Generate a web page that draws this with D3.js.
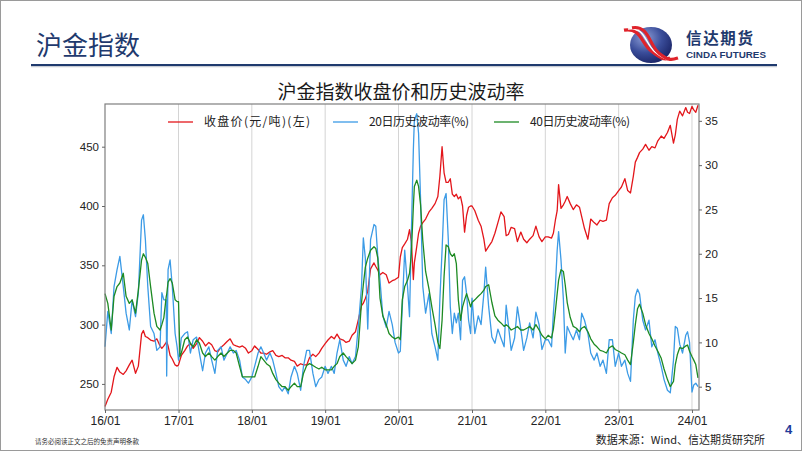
<!DOCTYPE html>
<html>
<head>
<meta charset="utf-8">
<script src="https://cdn.jsdelivr.net/npm/d3@7"></script>
<style>
  body { margin: 0; background: #fff; }
  svg { display: block; }
</style>
</head>
<body>
<svg id="chart" width="802" height="451"></svg>
<script>
// Data (semi-monthly samples)
const dates = [
  "2016-01-01","2016-01-15","2016-02-01","2016-02-15","2016-03-01","2016-03-15","2016-04-01","2016-04-15","2016-05-01","2016-05-15","2016-06-01","2016-06-15","2016-07-01","2016-07-10","2016-07-20","2016-08-01","2016-08-15","2016-09-01","2016-09-15","2016-10-01","2016-10-10","2016-10-20","2016-11-01","2016-11-03","2016-11-10","2016-11-20","2016-12-01","2016-12-15","2016-12-25",
  "2017-01-01","2017-01-08","2017-01-15","2017-02-01","2017-02-15","2017-03-01","2017-03-15","2017-04-01","2017-04-15","2017-05-01","2017-05-15","2017-06-01","2017-06-15","2017-07-01","2017-07-15","2017-08-01","2017-08-15","2017-09-01","2017-09-15","2017-10-01","2017-10-15","2017-11-01","2017-11-15","2017-12-01","2017-12-15",
  "2018-01-01","2018-01-15","2018-02-01","2018-02-15","2018-03-01","2018-03-15","2018-04-01","2018-04-15","2018-05-01","2018-05-15","2018-06-01","2018-06-15","2018-07-01","2018-07-15","2018-08-01","2018-08-15","2018-09-01","2018-09-15","2018-10-01","2018-10-15","2018-11-01","2018-11-15","2018-12-01","2018-12-15",
  "2019-01-01","2019-01-15","2019-02-01","2019-02-15","2019-03-01","2019-03-15","2019-04-01","2019-04-15","2019-05-01","2019-05-15","2019-06-01","2019-06-15","2019-07-01","2019-07-10","2019-07-20","2019-08-01","2019-08-15","2019-09-01","2019-09-10","2019-09-20","2019-10-01","2019-10-15","2019-11-01","2019-11-15","2019-12-01","2019-12-15",
  "2020-01-01","2020-01-10","2020-01-20","2020-02-01","2020-02-15","2020-02-25","2020-03-05","2020-03-15","2020-03-20","2020-04-01","2020-04-10","2020-04-20","2020-05-01","2020-05-15","2020-06-01","2020-06-15","2020-07-01","2020-07-15","2020-07-25","2020-08-05","2020-08-15","2020-08-25","2020-09-05","2020-09-15","2020-09-25","2020-10-05","2020-10-15","2020-10-25","2020-11-05","2020-11-15","2020-11-25","2020-12-05","2020-12-15","2020-12-25",
  "2021-01-01","2021-01-15","2021-02-01","2021-02-15","2021-03-01","2021-03-10","2021-03-25","2021-04-10","2021-04-25","2021-05-10","2021-05-25","2021-06-10","2021-06-20","2021-07-01","2021-07-15","2021-08-01","2021-08-15","2021-09-01","2021-09-15","2021-10-01","2021-10-15","2021-11-01","2021-11-15","2021-12-01","2021-12-15",
  "2022-01-01","2022-01-15","2022-02-01","2022-02-10","2022-02-20","2022-03-01","2022-03-08","2022-03-20","2022-04-01","2022-04-10","2022-04-20","2022-05-05","2022-05-20","2022-06-05","2022-06-20","2022-07-01","2022-07-15","2022-08-01","2022-08-15","2022-09-01","2022-09-15","2022-10-01","2022-10-15","2022-11-01","2022-11-15","2022-12-01","2022-12-15",
  "2023-01-01","2023-01-15","2023-02-01","2023-02-15","2023-03-01","2023-03-15","2023-03-25","2023-04-05","2023-04-15","2023-05-01","2023-05-15","2023-06-01","2023-06-15","2023-07-01","2023-07-15","2023-08-01","2023-08-15","2023-09-01","2023-09-15","2023-10-01","2023-10-10","2023-10-20","2023-11-01","2023-11-15","2023-12-01","2023-12-10","2023-12-20",
  "2024-01-01","2024-01-10","2024-01-20","2024-01-31"
];

// 收盘价, left axis
const closePrice = [
  231,237,243,256,264,260,258,261,266,270,259,265,292,295,290,289,287,286,288,282,280,282,285,286,282,274,271,266,265,
  266,270,274,278,282,284,280,284,289,286,282,285,283,278,277,281,283,286,288,283,282,281,282,280,276,
  278,282,279,276,276,275,277,278,274,273,274,272,272,270,269,265,267,266,266,272,275,273,276,280,
  284,287,290,288,292,288,287,285,286,291,294,304,316,318,322,328,347,352,349,346,342,344,342,335,337,338,
  340,357,365,368,372,380,370,338,352,366,377,383,386,389,395,398,402,408,425,450,428,420,420,423,410,408,410,406,408,400,378,392,399,400,
  400,396,388,383,372,362,366,370,377,386,395,391,375,376,382,381,370,378,372,369,372,375,383,374,370,
  374,374,373,377,388,396,418,398,401,404,408,402,397,401,399,391,381,372,389,386,384,388,387,388,402,407,409,
  413,416,423,413,411,425,437,441,445,448,452,447,450,449,455,459,457,462,468,453,460,473,480,476,483,479,478,
  484,481,479,485
];

// 20日历史波动率 (%), right axis
const vol20 = [
  9.5,13.5,11,16.3,18.2,19.7,16.3,13.3,11.4,14.8,12.9,15.6,23.8,24.4,21.6,16.3,11.8,11,9.1,9.5,15.6,14.8,14.8,6.2,18.2,19.3,16.3,11,9.5,
  8,9,10.5,11,11.2,8.8,10.3,10.6,8.8,6.8,8.8,9.5,8,6.5,9.1,9.5,8,8.8,9.5,8.8,9.1,8,6.1,5.8,5.4,
  6.1,7.3,8.8,9.5,8.8,8,8.8,8,6.5,5,4.5,5,4.2,6.1,7.3,6.5,4.6,7.3,9.1,9.1,6.5,5,5.8,6.1,
  7.3,6.5,7.3,6.5,8.8,10.3,8,7.3,8.4,7.6,8.4,11.8,16.3,21.8,19.5,11.5,21.6,23.3,23.1,19.7,17,13,11.7,13.5,12,10,
  8.8,9,14,20.4,16.3,12.9,22.3,31.7,35.1,35.8,33.6,26.1,16.3,13.3,15.5,11,9.5,8,14.8,20.4,26.1,26.8,21.6,14,11,13.3,12.2,13.3,10.3,17,17.4,15.5,12.5,11,
  15,11,13,12,15.5,18.5,14,10.6,9.9,11.5,10.5,9.5,14.2,12,9.1,10.5,14,11.5,9.1,10.5,12.2,10.5,13.4,12,9.2,
  10.3,10.3,9.5,13.3,16.3,20.4,22.5,19.3,14.8,8.8,11.8,11,10.3,11.4,10.3,13.3,12.5,11,8.8,8,8.8,7.3,8,6.5,10.3,10.3,7.3,
  8.8,7.3,8,6.5,5.6,12.5,15.2,16,15.5,12.5,11.4,12.5,9.5,10.3,8.8,7.3,5.8,4.6,4.3,8,11.8,11.6,9.8,8.8,10.8,11.2,10,
  4.4,5.2,5.4,5
];

// 40日历史波动率 (%), right axis
const vol40 = [
  15.5,14.4,11.4,15.2,16.3,16.7,17.8,15.2,14.4,14.8,13.3,15.9,19.3,20,19.6,18.9,16.3,13.3,11.8,11.4,12,12.8,15.2,15.4,16.8,17.2,16.7,14.8,14.6,
  14.6,8.4,8.8,10.3,10.6,9.9,9.5,10.3,9.9,8.8,8.4,8.8,8.4,8,8.4,8.8,8.4,8.8,9.1,9.1,8.8,7.3,6.1,6.1,6.1,
  6.1,6.1,7.3,8.4,8,7.6,7.3,6.5,5.8,5.4,5,5,4.6,5,5.4,5,5,6.5,7.4,7.6,7.4,7.2,7,7.2,
  6.9,6.9,6.9,7.3,7.6,8.4,8.8,8.4,8,7.6,8,9.5,14.5,16.5,18.5,19.5,20.4,20.8,20.6,19.5,15,13,12,11,10.6,10.4,
  10.6,10.3,14.8,16.3,17,17.8,20,25.3,27.6,28.3,27.6,25.5,21.5,18,16,14,12,10,9.3,12.5,17.5,21,20.8,20,19.7,20,18.9,14.8,12.5,14,14.8,15.5,14.8,14,
  14.5,14.8,15.2,15.5,15.9,16.3,16.5,14.5,13,12.5,12.2,11.8,12,11.8,11.4,11.6,11.8,11.4,11.4,11.6,11.8,11.4,12,11.4,10.8,
  10.4,10.8,10.5,11.5,13.5,15.5,17,18.2,18,16.5,14.5,12.8,11.8,11.6,11.2,11.6,11.8,11.2,10.4,9.8,9.5,9.1,9,8.8,9.4,9.6,9.2,
  9,8.8,8.6,8,7.5,10,12,13.8,14.3,13.3,12,11,10.4,9.6,9,8.2,7,5.8,5,5.6,7.5,8.6,9.4,9.3,9.6,9.7,9,
  8.4,8,7.5,6
];

const leftTicks = [250, 300, 350, 400, 450];
const rightTicks = [5, 10, 15, 20, 25, 30, 35];
const yearTicks = ["2016-01-01","2017-01-01","2018-01-01","2019-01-01","2020-01-01","2021-01-01","2022-01-01","2023-01-01","2024-01-01"];
const seriesNames = ["收盘价(元/吨)(左)", "20日历史波动率(%)", "40日历史波动率(%)"];
const seriesColors = ["#e3161b", "#3c9be6", "#1d8a22"];

const parse = d3.timeParse("%Y-%m-%d");
const cjk = "'Noto Sans CJK SC', 'Noto Sans', sans-serif";
const num = "'Liberation Sans', Arial, sans-serif";
const navy = "#1f3a6e";

const svg = d3.select("#chart");

// page frame
svg.append("rect")
  .attr("x", 0.5).attr("y", 0.5).attr("width", 801).attr("height", 450)
  .attr("fill", "#fff").attr("stroke", "#9a9a9a");

// ---- header ----
svg.append("text")
  .attr("x", 36).attr("y", 55)
  .style("font-family", cjk).style("font-size", "26px")
  .attr("fill", navy)
  .text("沪金指数");

svg.append("line")
  .attr("x1", 31).attr("x2", 777).attr("y1", 66.5).attr("y2", 66.5)
  .attr("stroke", "#c8ccd4").attr("stroke-width", 1.5);
svg.append("line")
  .attr("x1", 31).attr("x2", 777).attr("y1", 65).attr("y2", 65)
  .attr("stroke", navy).attr("stroke-width", 2);

// logo
const defs = svg.append("defs");
const grad = defs.append("radialGradient").attr("id", "logoGrad")
  .attr("cx", "35%").attr("cy", "30%").attr("r", "75%");
grad.append("stop").attr("offset", "0%").attr("stop-color", "#8fa0d8");
grad.append("stop").attr("offset", "55%").attr("stop-color", "#3a4d9a");
grad.append("stop").attr("offset", "100%").attr("stop-color", "#1a2466");

const logo = svg.append("g");
logo.append("ellipse")
  .attr("cx", 651).attr("cy", 45).attr("rx", 21).attr("ry", 18)
  .attr("fill", "url(#logoGrad)");
[-4, 0, 4].forEach(off => {
  logo.append("path")
    .attr("d", `M${628 + off},${29 - off * 0.3} C${645 + off},${26 - off * 0.3} ${645 + off},${44 + off * 0.3} ${655 + off},${52 + off * 0.3} S${668 + off},${60} ${674 + off},${58}`)
    .attr("fill", "none")
    .attr("stroke", off === 0 ? "#ffffff" : "#e0232b")
    .attr("stroke-width", off === 0 ? 1.4 : 3.2);
});
svg.append("text")
  .attr("x", 686).attr("y", 44)
  .style("font-family", cjk).style("font-size", "15.5px").style("font-weight", "bold")
  .attr("fill", navy)
  .attr("textLength", 67)
  .text("信达期货");
svg.append("text")
  .attr("x", 686).attr("y", 57.5)
  .style("font-family", num).style("font-size", "8.5px").style("font-weight", "bold")
  .attr("fill", navy)
  .attr("textLength", 80).attr("lengthAdjust", "spacingAndGlyphs")
  .text("CINDA FUTURES");

// ---- chart ----
const plot = { left: 105, right: 699, top: 104, bottom: 410 };

const x = d3.scaleTime()
  .domain([parse("2016-01-01"), parse("2024-02-05")])
  .range([plot.left, plot.right]);
const yLeft = d3.scaleLinear().domain([228, 486]).range([plot.bottom, plot.top]);
const yRight = d3.scaleLinear().domain([2.37, 36.9]).range([plot.bottom, plot.top]);

svg.append("text")
  .attr("x", 401).attr("y", 99)
  .attr("text-anchor", "middle")
  .style("font-family", cjk).style("font-size", "19px")
  .attr("fill", "#1a1a1a")
  .text("沪金指数收盘价和历史波动率");

// vertical gridlines at each year
svg.append("g")
  .selectAll("line")
  .data(yearTicks.slice(1))
  .join("line")
  .attr("x1", d => x(parse(d))).attr("x2", d => x(parse(d)))
  .attr("y1", plot.top).attr("y2", plot.bottom)
  .attr("stroke", "#d4d4d4").attr("stroke-width", 1);

const rows = dates.map((d, i) => ({
  date: parse(d),
  close: closePrice[i],
  v20: vol20[i],
  v40: vol40[i]
}));

const lineClose = d3.line().x(d => x(d.date)).y(d => yLeft(d.close));
const line20 = d3.line().x(d => x(d.date)).y(d => yRight(d.v20));
const line40 = d3.line().x(d => x(d.date)).y(d => yRight(d.v40));

const lines = svg.append("g")
  .attr("fill", "none")
  .attr("stroke-width", 1.3)
  .attr("stroke-linejoin", "round");
lines.append("path").datum(rows).attr("stroke", seriesColors[0]).attr("d", lineClose);
lines.append("path").datum(rows).attr("stroke", seriesColors[1]).attr("d", line20);
lines.append("path").datum(rows).attr("stroke", seriesColors[2]).attr("d", line40);

// plot frame
svg.append("rect")
  .attr("x", plot.left).attr("y", plot.top)
  .attr("width", plot.right - plot.left).attr("height", plot.bottom - plot.top)
  .attr("fill", "none").attr("stroke", "#7f7f7f").attr("stroke-width", 1.2);

// axes
function styleAxis(g) {
  g.select(".domain").remove();
  g.selectAll(".tick line").attr("stroke", "#666");
  g.selectAll(".tick text")
    .attr("fill", "#222")
    .style("font-family", num)
    .style("font-size", "11.5px");
}

svg.append("g")
  .attr("transform", `translate(${plot.left},0)`)
  .call(d3.axisLeft(yLeft).tickValues(leftTicks).tickSize(3).tickPadding(3))
  .call(styleAxis);

svg.append("g")
  .attr("transform", `translate(${plot.right},0)`)
  .call(d3.axisRight(yRight).tickValues(rightTicks).tickSize(3).tickPadding(3))
  .call(styleAxis);

svg.append("g")
  .attr("transform", `translate(0,${plot.bottom})`)
  .call(d3.axisBottom(x)
    .tickValues(yearTicks.map(parse))
    .tickFormat(d3.timeFormat("%y/%m"))
    .tickSize(3).tickPadding(3))
  .call(styleAxis)
  .call(g => g.selectAll(".tick text")
    .style("font-family", "'Liberation Sans Narrow', 'Liberation Sans', sans-serif")
    .style("font-size", "12px"));

// legend
const legendX = [168, 333, 494];
const legendTextLen = [106, 100, 100];
const legend = svg.append("g");
seriesNames.forEach((name, i) => {
  legend.append("line")
    .attr("x1", legendX[i]).attr("x2", legendX[i] + 25)
    .attr("y1", 122).attr("y2", 122)
    .attr("stroke", seriesColors[i]).attr("stroke-width", 1.3);
  legend.append("text")
    .attr("x", legendX[i] + 36).attr("y", 126)
    .style("font-family", cjk).style("font-size", "12px")
    .attr("fill", "#222")
    .attr("textLength", legendTextLen[i]).attr("lengthAdjust", "spacing")
    .text(name);
});

// ---- footer ----
svg.append("text")
  .attr("x", 35).attr("y", 444)
  .style("font-family", cjk).style("font-size", "6.5px")
  .attr("fill", "#333")
  .text("请务必阅读正文之后的免责声明条款");
svg.append("text")
  .attr("x", 765).attr("y", 444)
  .attr("text-anchor", "end")
  .style("font-family", cjk).style("font-size", "11px")
  .attr("fill", "#222")
  .text("数据来源：Wind、信达期货研究所");
svg.append("text")
  .attr("x", 785).attr("y", 434)
  .style("font-family", num).style("font-size", "13px").style("font-weight", "bold")
  .attr("fill", "#1f3b9a")
  .text("4");
</script>
</body>
</html>
